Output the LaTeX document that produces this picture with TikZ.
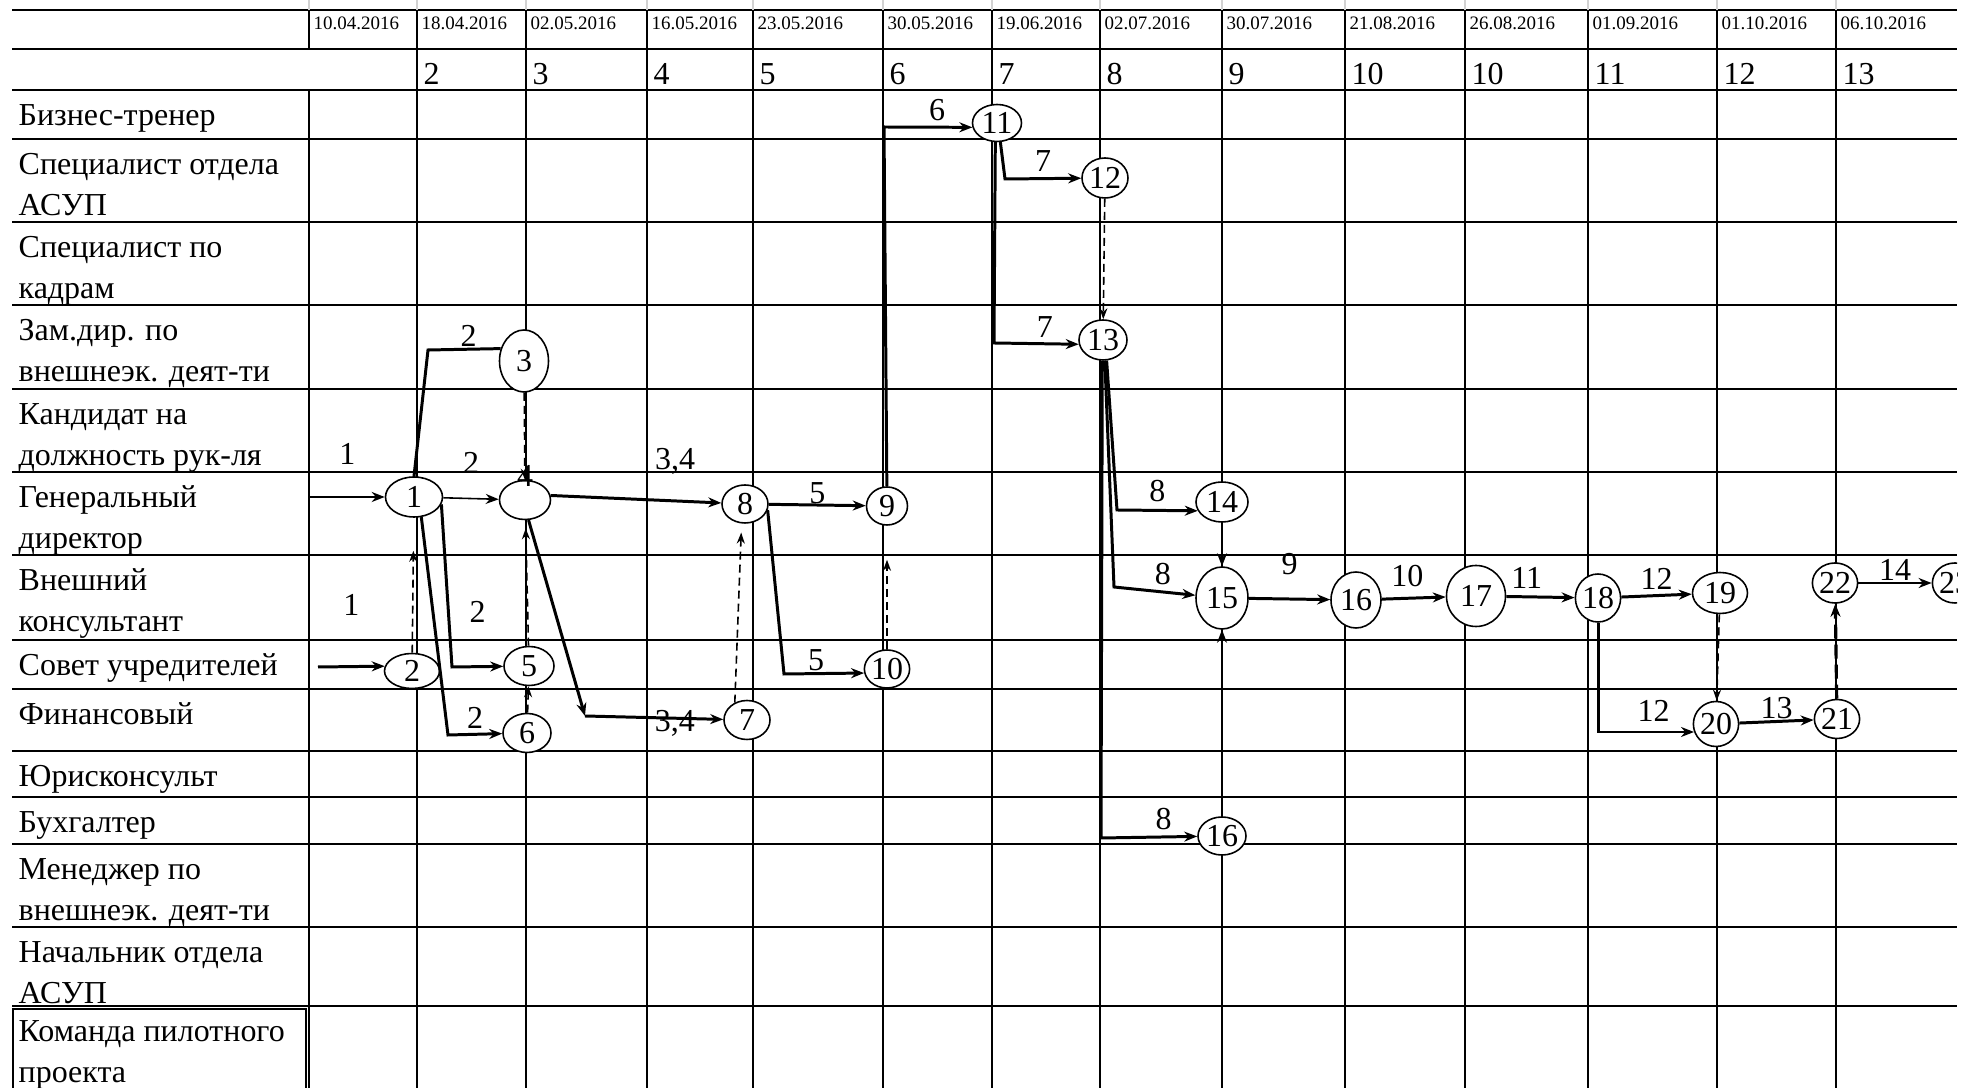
\documentclass[tikz,border=0pt]{standalone}
\usepackage{fontspec}
\setmainfont{Liberation Serif}
\usetikzlibrary{arrows.meta,shapes.geometric}

\newcommand\lblfont{\fontsize{9.1}{11.7}\selectfont}
\newcommand\dtfont{\fontsize{5.4}{6.5}\selectfont}

\begin{document}
\begin{tikzpicture}[x=0.1mm, y=-0.1mm,
    gridline/.style={line width=0.55pt},
    ev/.style={ellipse, draw, line width=0.45pt, inner sep=0pt, fill=white, font=\lblfont},
    lab/.style={inner sep=0pt, font=\lblfont},
    act/.style={line width=0.85pt, -{Stealth[length=1.3mm,width=1mm]}},
    actline/.style={line width=0.85pt},
    thinact/.style={line width=0.45pt, -{Stealth[length=1.3mm,width=1mm]}},
    dum/.style={line width=0.45pt, dash pattern=on 0.8mm off 0.5mm, -{Stealth[length=1.1mm,width=0.8mm]}},
    dumbold/.style={line width=0.9pt, dash pattern=on 1.4mm off 0.6mm, -{Stealth[length=1.3mm,width=1mm]}}]
    \useasboundingbox (0,0) rectangle (1969,1088);
  \begin{scope}
    \clip (0,0) rectangle (1957,1088);

    % table
    \foreach \ry in {10,49,90,139,222,305,389,472,555,640,689,751,797,844,927,1006}
        \draw[gridline] (12,\ry) -- (1957,\ry);
    \draw[gridline] (309,10) -- (309,49) (309,90) -- (309,1088);
    \draw[gray!35, line width=0.4pt] (309,0) -- (309,10);
    \foreach \cx in {417,526,647,753,883,992,1100,1222,1345,1465,1588,1717,1836} {
        \draw[gridline] (\cx,10) -- (\cx,1088);
        \draw[gray!35, line width=0.4pt] (\cx,0) -- (\cx,10);
    }
    \draw[gridline] (13,1088) -- (13,1009) -- (306,1009) -- (306,1088);

    \foreach \cx/\dt in {309/10.04.2016, 417/18.04.2016, 526/02.05.2016, 647/16.05.2016,
        753/23.05.2016, 883/30.05.2016, 992/19.06.2016, 1100/02.07.2016, 1222/30.07.2016,
        1345/21.08.2016, 1465/26.08.2016, 1588/01.09.2016, 1717/01.10.2016, 1836/06.10.2016}
        \node[anchor=base west, inner sep=0pt, font=\dtfont] at (\cx+4,30) {\dt};
    \foreach \cx/\nm in {417/2, 526/3, 647/4, 753/5, 883/6, 992/7, 1100/8, 1222/9,
        1345/10, 1465/10, 1588/11, 1717/12, 1836/13}
        \node[anchor=base west, inner sep=0pt, font=\lblfont] at (\cx+6,85) {\nm};

    \foreach \ry/\txt in {90/{Бизнес-тренер}, 139/{Специалист отдела\\АСУП},
        222/{Специалист по\\кадрам}, 305/{Зам.дир. по\\внешнеэк. деят-ти},
        389/{Кандидат на\\должность рук-ля}, 472/{Генеральный\\директор},
        555/{Внешний\\консультант}, 640/{Совет учредителей}, 689/{Финансовый},
        751/{Юрисконсульт}, 797/{Бухгалтер}, 844/{Менеджер по\\внешнеэк. деят-ти},
        927/{Начальник отдела\\АСУП}, 1006/{Команда пилотного\\проекта}}
        \node[anchor=north west, inner sep=0pt, align=left, font=\lblfont] at (18,\ry+6) {\strut\txt};

    % events
    \foreach \id/\t/\x/\y/\w/\h in {1/1/414/497/5.7/4.0, 2/2/412/671/5.5/3.5,
        3/3/524/361/4.9/6.2, 5/5/529/666/5.0/3.9, 6/6/527/733/4.8/3.9,
        7/7/747/720/4.6/3.9, 8/8/745/504/4.6/3.8, 9/9/887/506/4.1/3.8,
        10/10/887/669/4.1/3.8, 11/11/997/123/4.9/3.7, 12/12/1105/178/4.6/4.0,
        13/13/1103/340/4.8/4.0, 14/14/1222/502/5.2/4.0, 15/15/1222/598/5.2/6.2,
        16/16/1356/600/5.0/5.6, 16x/16/1222/836/4.8/3.8, 17/17/1476/596/5.9/6.1,
        18/18/1598/598/4.1/4.8, 19/19/1720/593/5.5/4.1, 20/20/1716/724/4.1/4.5,
        21/21/1837/719/4.3/3.9, 22/22/1835/583/4.3/4.0, 23/23/1955/583/4.5/4.0}
        \node[ev, minimum width=\w mm, minimum height=\h mm] (n\id) at (\x,\y) {\t};
    \node[ev, minimum width=5.1mm, minimum height=3.9mm,
        label={[lab, anchor=center, yshift=0.4mm]north:4}] (n4) at (525,500) {};

    \coordinate (in1) at (310,497);
    \coordinate (in2) at (318,667);
    \coordinate (k13) at (428,350);
    \coordinate (k15) at (452,667);
    \coordinate (k16) at (448,735);
    \coordinate (k47) at (585,716);
    \coordinate (k810) at (784,674);
    \coordinate (k911) at (884,127);
    \coordinate (k1112) at (1005,179);
    \coordinate (k1113) at (994,343);
    \coordinate (k1314) at (1117,510);
    \coordinate (k1315) at (1114,587);
    \coordinate (k1316) at (1101,838);
    \coordinate (k1820) at (1598,732);

    % works
    \draw[act] (in1) -- node[lab, above=3.1mm] {1} (n1);
    \draw[act] (in2) -- node[lab, above=5mm] {1} (n2.170);
    \draw[thinact] (n1) -- node[lab, above=2.4mm] {2} (n4);
    \draw[actline] (n1.north) -- (k13) -- node[lab, pos=.56, above=0.1mm] {2} (n3.152);
    \draw[act] (n1.-15) -- (k15) -- node[lab, above=4.3mm] {2} (n5);
    \draw[act] (n1.-70) -- (k16) -- node[lab, above=0.4mm] {2} (n6);
    \draw[act] (n4.-80) -- (k47);
    \draw[act] (k47) -- node[lab, pos=.65, yshift=-0.5mm] {3,4} (n7);
    \draw[act] (n4.10) -- node[lab, pos=.73, above=2.5mm] {3,4} (n8);
    \draw[act] (n8) -- node[lab, above] {5} (n9);
    \draw[act] (n8.-15) -- (k810) -- node[lab, pos=.4, above=0.1mm] {5} (n10.190);
    \draw[act] (n9) -- (k911) -- node[lab, pos=.6, above=0.5mm] {6} (n11.190);
    \draw[act] (n11.-80) -- (k1112) -- node[lab, above=0.6mm] {7} (n12);
    \draw[act] (n11.-95) -- (k1113) -- node[lab, pos=.6, above=0.5mm] {7} (n13.190);
    \draw[act] (n13.-80) -- (k1314) -- node[lab, above=0.7mm] {8} (n14.200);
    \draw[act] (n13.-85) -- (k1315) -- node[lab, pos=.6, above=0.6mm] {8} (n15);
    \draw[act] (n13.-92) -- (k1316) -- node[lab, pos=.65, above=0.6mm] {8} (n16x);
    \draw[thinact] (n14) -- (n15);
    \draw[thinact] (n16x) -- (n15);
    \draw[act] (n15) -- node[lab, above=2.3mm] {9} (n16);
    \draw[act] (n16) -- node[lab, pos=.4, above=1mm] {10} (n17);
    \draw[act] (n17) -- node[lab, pos=.3, above=0.7mm] {11} (n18);
    \draw[act] (n18) -- node[lab, above=0.5mm] {12} (n19);
    \draw[act] (n18) -- (k1820) -- node[lab, pos=.58, above=0.9mm] {12} (n20.200);
    \draw[act] (n20) -- node[lab, above=0.1mm] {13} (n21);
    \draw[act] (n22) -- node[lab, above=0.1mm] {14} (n23);

    % dummy works
    \draw[dum, shorten >=3.3mm] (n2) -- (n1);
    \draw[dum] (n3) -- (n4);
    \draw[dum] (n6) -- (n5);
    \draw[dum, shorten >=0.8mm] (n5) -- (n4);
    \draw[dum, shorten >=0.9mm] (n7.125) -- (n8.260);
    \draw[dum, shorten >=3.4mm] (n10) -- (n9);
    \draw[dum] (n12) -- (n13);
    \draw[dum] (n19) -- (n20);
    \draw[dumbold] (n21) -- (n22);
  \end{scope}
\end{tikzpicture}
\end{document}
